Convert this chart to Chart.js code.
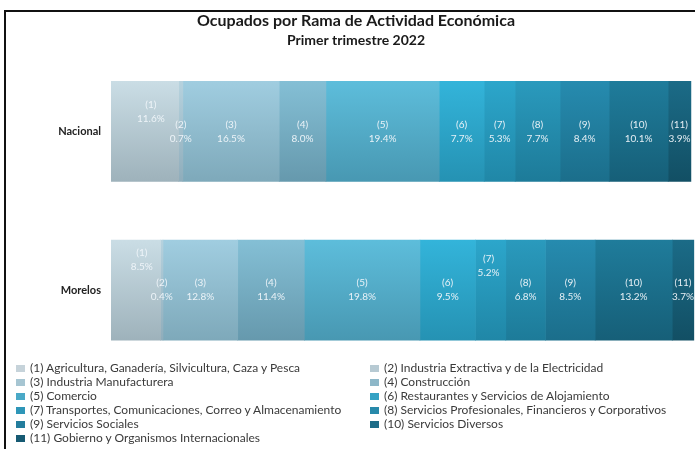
<!DOCTYPE html>
<html>
<head>
<meta charset="utf-8">
<script src="https://cdn.jsdelivr.net/npm/chart.js@4"></script>
<style>
    body { margin: 0; background: #fff; }
    .wrap { position: relative; width: 695px; height: 449px; overflow: hidden; background: #fff; }
    .frame { position: absolute; left: 4px; top: 10px; width: 700px; height: 450px; border-left: 2px solid #111; border-top: 2px solid #111; }
    canvas { position: absolute; left: 0; top: 0; }
    .legend { position: absolute; left: 16px; top: 361px; display: grid; grid-template-columns: 354px 320px; font-family: Lato, sans-serif; font-size: 12px; color: #3a3a3a; }
    .legend div { height: 14px; line-height: 14px; white-space: nowrap; }
    .legend span { display: inline-block; width: 9px; height: 7px; margin-right: 5px; vertical-align: 0px; }
</style>
</head>
<body>
<div class="wrap">
    <div class="frame"></div>
    <canvas class="chart" width="695" height="449"></canvas>
    <div class="legend"></div>
</div>
<script>
const categories = ['Nacional', 'Morelos'];
const ramaCodes = ['(1)', '(2)', '(3)', '(4)', '(5)', '(6)', '(7)', '(8)', '(9)', '(10)', '(11)'];
const ramaNames = [
    'Agricultura, Ganadería, Silvicultura, Caza y Pesca',
    'Industria Extractiva y de la Electricidad',
    'Industria Manufacturera',
    'Construcción',
    'Comercio',
    'Restaurantes y Servicios de Alojamiento',
    'Transportes, Comunicaciones, Correo y Almacenamiento',
    'Servicios Profesionales, Financieros y Corporativos',
    'Servicios Sociales',
    'Servicios Diversos',
    'Gobierno y Organismos Internacionales'
];
const nacional = [11.6, 0.7, 16.5, 8.0, 19.4, 7.7, 5.3, 7.7, 8.4, 10.1, 3.9];
const morelos = [8.5, 0.4, 12.8, 11.4, 19.8, 9.5, 5.2, 6.8, 8.5, 13.2, 3.7];

// top / bottom colours of each bar gradient
const topColours = ['#cadde5', '#b6d2de', '#a0cde0', '#84bfd5', '#5dbddb', '#33b4da', '#2ca6cb', '#2a9abd', '#268baf', '#1f7c9b', '#1b6b87'];
const bottomColours = ['#9eb2bb', '#8fadbb', '#7ea9ba', '#6699ad', '#4898b2', '#2592b3', '#2087a7', '#1d7b99', '#1b6e8b', '#165f78', '#124f64'];
const legendColours = ['#c6d3da', '#b7cad3', '#a6c5d2', '#8db7c8', '#4aa9c7', '#35a2c4', '#2e96b8', '#2889aa', '#237d9d', '#1d6c88', '#165a73'];

// label nudges so small segments don't collide ("dataset-index")
const labelShift = { '0-0': [6, -20], '0-1': [6, -30], '6-1': [-2, -24] };

function barGradient(ctx) {
    const i = ctx.datasetIndex;
    const chart = ctx.chart;
    if (!chart.chartArea || !chart.scales.y) return topColours[i];
    const c = chart.scales.y.getPixelForValue(ctx.dataIndex);
    const g = chart.ctx.createLinearGradient(0, c - 50, 0, c + 50);
    g.addColorStop(0, topColours[i]);
    g.addColorStop(1, bottomColours[i]);
    return g;
}

const datasets = [];
for (let i = 0; i < ramaCodes.length; i++) {
    datasets.push({
        label: ramaCodes[i] + ' ' + ramaNames[i],
        data: [nacional[i], morelos[i]],
        backgroundColor: barGradient,
        borderWidth: 0,
        barThickness: 100
    });
}

const segmentLabels = {
    id: 'segmentLabels',
    afterDatasetsDraw(chart) {
        const ctx = chart.ctx;
        ctx.save();
        ctx.font = '10px Lato, sans-serif';
        ctx.fillStyle = 'rgba(240,246,250,0.95)';
        ctx.textAlign = 'center';
        ctx.textBaseline = 'middle';
        chart.data.datasets.forEach((ds, d) => {
            chart.getDatasetMeta(d).data.forEach((bar, j) => {
                const shift = labelShift[d + '-' + j] || [0, 0];
                const x = (bar.base + bar.x) / 2 + shift[0];
                const y = bar.y + shift[1];
                ctx.fillText(ramaCodes[d], x, y - 7);
                ctx.fillText(ds.data[j].toFixed(1) + '%', x, y + 7);
            });
        });
        ctx.restore();
    }
};

const chartCanvas = document.querySelector('.chart');
new Chart(chartCanvas, {
    type: 'bar',
    data: { labels: categories, datasets: datasets },
    plugins: [segmentLabels],
    options: {
        indexAxis: 'y',
        responsive: false,
        animation: false,
        layout: { padding: { left: 17, right: 0, top: 0, bottom: 79.5 } },
        scales: {
            x: { stacked: true, min: 0, max: 100, display: false },
            y: {
                stacked: true,
                grid: { display: false, drawTicks: false },
                border: { display: false },
                ticks: { padding: 10, color: '#222', font: { family: 'Lato', size: 11, weight: 'bold' } },
                afterFit(scale) { scale.width = 94; }
            }
        },
        plugins: {
            legend: { display: false },
            tooltip: { enabled: false },
            title: {
                display: true,
                text: 'Ocupados por Rama de Actividad Económica',
                color: '#1a1a1a',
                font: { family: 'Lato', size: 16, weight: 'bold' },
                padding: { top: 11, bottom: 0 }
            },
            subtitle: {
                display: true,
                text: 'Primer trimestre 2022',
                color: '#1a1a1a',
                font: { family: 'Lato', size: 14, weight: 'bold' },
                padding: { top: 2, bottom: 3 }
            }
        }
    }
});

const legendBox = document.querySelector('.legend');
for (let i = 0; i < ramaCodes.length; i++) {
    const item = document.createElement('div');
    item.innerHTML = '<span style="background:' + legendColours[i] + '"></span>' + ramaCodes[i] + ' ' + ramaNames[i];
    legendBox.appendChild(item);
}
</script>
</body>
</html>
